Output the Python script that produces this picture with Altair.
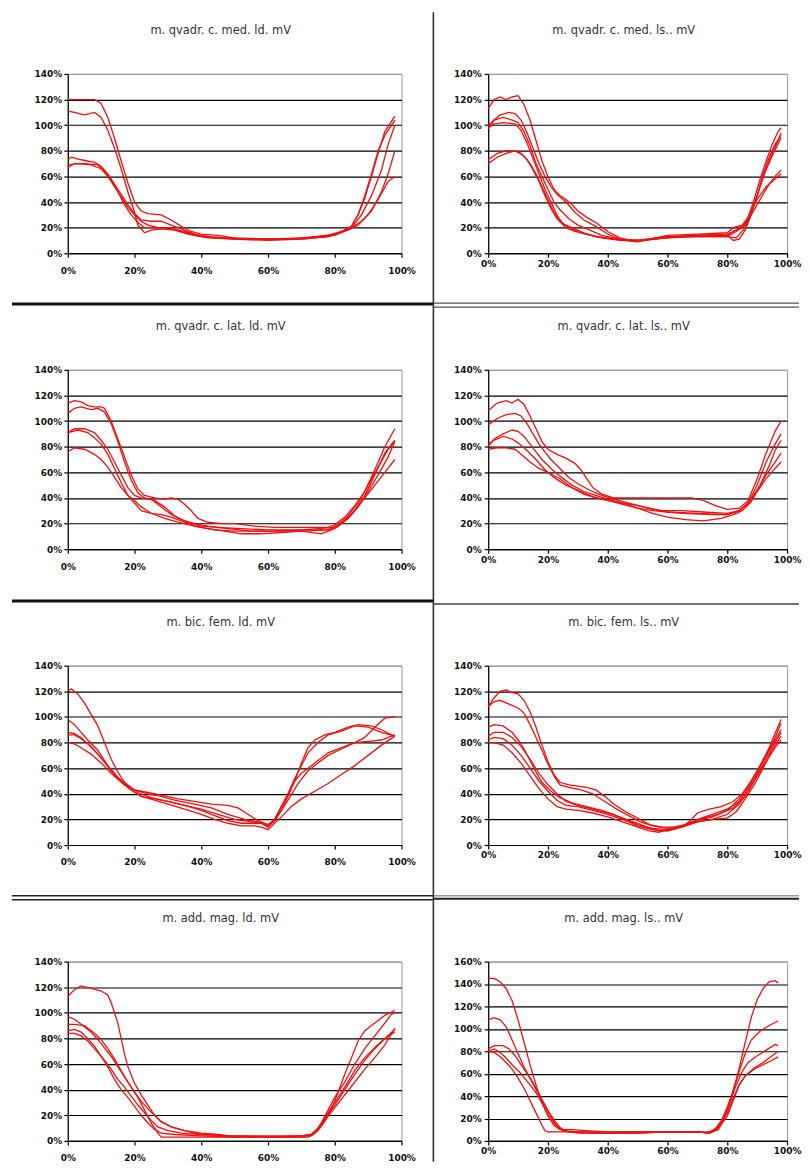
import altair as alt
import pandas as pd

# ---------------- titles ----------------
TITLES = [
    "m. qvadr. c. med. ld. mV", "m. qvadr. c. med. ls.. mV",
    "m. qvadr. c. lat. ld. mV", "m. qvadr. c. lat. ls.. mV",
    "m. bic. fem. ld. mV", "m. bic. fem. ls.. mV",
    "m. add. mag. ld. mV", "m. add. mag. ls.. mV",
]
Y_MAX = [140, 140, 140, 140, 140, 140, 140, 160]
X_TICKS = [0, 20, 40, 60, 80, 100]

# ---------------- panel 1: m. qvadr. c. med. ld. ----------------
P1_A = [(0,120),(3,120),(8,120),(10,117),(12,106),(14,90),(16,72),(18,55),(20,40),(22,33),(24,31),(28,30),(31,26),(34,21),(37,17),(40,15),(45,14),(50,12),(60,11),(70,12),(78,14),(82,17),(85,21),(87,30),(89,43),(91,60),(93,78),(95,95),(97,103),(98,107)]
P1_B = [(0,111),(2,110),(5,108),(8,110),(10,106),(12,96),(14,82),(16,66),(18,48),(20,32),(21,22),(23,16),(25,18),(28,19),(32,18),(36,15),(40,13),(45,12),(50,11),(60,11),(70,11),(78,13),(82,17),(85,21),(87,30),(89,45),(91,62),(93,80),(95,92),(97,100),(98,104)]
P1_C = [(0,73),(1,75),(4,73),(8,71),(10,68),(12,62),(14,54),(16,46),(18,38),(20,31),(22,26),(25,25),(28,25),(31,22),(34,19),(38,15),(42,13),(48,12),(55,11),(65,11),(72,12),(80,15),(84,18),(87,22),(90,30),(93,42),(96,56),(98,60)]
P1_D = [(0,67),(2,70),(5,70),(9,69),(11,64),(13,57),(15,48),(17,38),(19,30),(21,24),(23,20),(26,20),(30,20),(34,17),(38,14),(42,12),(50,11),(60,10),(70,11),(78,13),(82,16),(85,20),(88,25),(91,33),(94,48),(96,62),(98,80)]
P1_E = [(0,69),(3,70),(7,69),(10,66),(12,60),(14,52),(16,44),(18,36),(20,30),(22,25),(24,22),(27,20),(31,19),(35,17),(39,14),(45,12),(55,11),(65,11),(72,12),(80,14),(85,20),(88,30),(91,45),(94,65),(96,85),(98,100)]

# ---------------- panel 2: m. qvadr. c. med. ls. ----------------
P2_A = [(0,113),(2,120),(4,122),(6,120),(8,122),(10,123),(12,116),(14,104),(16,88),(18,72),(20,60),(22,50),(24,45),(26,42),(28,38),(30,33),(33,28),(36,24),(40,17),(44,12),(48,10),(52,10),(56,12),(60,14),(70,15),(80,16),(82,20),(85,22),(87,28),(89,42),(91,58),(93,72),(95,85),(97,95),(98,98)]
P2_B = [(0,97),(2,104),(4,108),(7,110),(9,109),(11,104),(13,94),(15,82),(17,70),(19,60),(21,52),(23,46),(26,40),(29,32),(32,26),(36,21),(40,15),(45,10),(50,9),(55,11),(62,13),(70,14),(80,14),(82,10),(84,11),(86,18),(88,30),(90,45),(92,62),(94,75),(96,85),(98,92)]
P2_C = [(0,100),(2,104),(5,106),(8,104),(10,102),(12,95),(14,84),(16,70),(18,60),(20,50),(22,40),(24,34),(27,27),(30,22),(34,18),(38,14),(42,12),(46,10),(52,10),(60,12),(70,13),(80,13),(83,12),(86,20),(88,32),(90,45),(92,60),(95,76),(98,90)]
P2_D = [(0,98),(2,101),(5,102),(9,101),(11,96),(13,86),(15,74),(17,62),(19,50),(21,40),(23,30),(25,23),(28,20),(32,16),(36,13),(40,12),(45,10),(50,10),(60,13),(70,13),(80,13),(83,17),(86,22),(88,30),(91,42),(94,54),(96,60),(98,65)]
P2_E = [(0,70),(3,75),(6,78),(9,80),(11,78),(13,73),(15,65),(17,56),(19,45),(21,35),(23,27),(26,20),(29,17),(33,15),(38,12),(44,10),(50,10),(60,12),(70,14),(80,15),(83,18),(86,24),(88,33),(90,42),(93,52),(96,58),(98,62)]
P2_F = [(0,73),(3,78),(6,80),(9,80),(12,76),(14,70),(16,62),(18,52),(20,42),(22,32),(24,25),(27,20),(31,16),(36,13),(42,11),(50,10),(60,13),(70,14),(80,14),(82,17),(85,20),(87,26),(89,38),(91,52),(93,66),(95,78),(97,88),(98,94)]

# ---------------- panel 3: m. qvadr. c. lat. ld. ----------------
P3_A = [(0,114),(2,116),(4,115),(6,112),(8,111),(10,111),(11,110),(13,100),(15,86),(17,72),(19,58),(21,47),(23,42),(26,40),(29,39),(31,40),(33,39),(35,35),(37,30),(39,24),(42,21),(46,20),(50,20),(56,18),(62,17),(70,17),(78,17),(80,19),(83,25),(86,34),(89,45),(92,62),(95,80),(98,94)]
P3_B = [(0,106),(2,110),(4,111),(7,109),(9,110),(11,107),(13,98),(15,84),(17,68),(19,54),(21,44),(23,40),(26,38),(29,33),(32,26),(35,22),(38,18),(42,16),(47,14),(52,12),(58,12),(64,13),(70,14),(76,12),(80,16),(83,22),(86,30),(89,42),(92,58),(95,75),(98,85)]
P3_C = [(0,91),(2,94),(5,94),(8,91),(10,85),(12,78),(14,68),(16,58),(18,48),(20,42),(22,40),(25,39),(28,33),(31,27),(34,23),(38,20),(42,18),(48,16),(55,14),(62,14),(70,14),(78,15),(81,19),(84,26),(87,36),(90,50),(93,64),(96,78),(98,84)]
P3_D = [(0,91),(3,93),(6,91),(8,87),(10,82),(12,74),(14,63),(16,52),(18,42),(20,36),(22,30),(25,28),(28,27),(31,25),(35,21),(40,18),(45,17),(52,16),(60,15),(70,15),(78,15),(81,18),(84,24),(87,33),(90,45),(93,58),(96,72),(98,84)]
P3_E = [(0,76),(2,79),(5,78),(8,74),(10,70),(12,64),(14,56),(16,48),(18,42),(20,38),(22,33),(25,28),(29,24),(33,21),(38,18),(44,15),(50,14),(60,14),(70,15),(80,17),(83,22),(86,30),(89,40),(92,50),(95,60),(98,70)]

# ---------------- panel 4: m. qvadr. c. lat. ls. ----------------
P4_A = [(0,108),(3,114),(6,116),(8,114),(10,117),(12,113),(14,104),(16,94),(18,84),(20,78),(23,74),(26,71),(29,67),(31,62),(33,55),(35,48),(38,43),(42,40),(48,40),(55,40),(62,40),(68,40),(72,38),(76,34),(80,31),(84,32),(87,38),(90,55),(93,75),(96,92),(98,100)]
P4_B = [(0,97),(3,102),(6,105),(9,106),(11,104),(13,98),(15,90),(17,82),(19,76),(21,70),(24,63),(27,56),(30,51),(34,46),(38,42),(42,39),(47,36),(52,33),(58,30),(65,30),(72,29),(80,28),(84,30),(87,36),(90,50),(93,68),(96,82),(98,90)]
P4_C = [(0,80),(2,86),(5,90),(8,93),(10,92),(12,88),(14,82),(16,76),(18,70),(21,63),(24,57),(28,50),(32,45),(36,42),(40,39),(45,36),(50,32),(55,28),(60,25),(66,23),(72,22),(78,24),(82,27),(85,30),(88,37),(91,50),(94,65),(96,77),(98,85)]
P4_D = [(0,82),(2,85),(5,88),(8,86),(10,83),(13,77),(16,70),(19,62),(22,56),(26,50),(30,46),(35,41),(40,38),(45,36),(50,34),(55,31),(60,29),(65,28),(75,27),(80,27),(84,30),(87,36),(90,46),(93,58),(96,68),(98,75)]
P4_E = [(0,78),(3,79),(6,79),(9,78),(11,74),(14,68),(17,63),(20,60),(24,55),(28,48),(32,43),(36,40),(40,38),(45,35),(50,32),(55,30),(60,29),(70,28),(80,27),(84,30),(87,36),(90,45),(93,55),(96,63),(98,68)]

# ---------------- panel 5: m. bic. fem. ld. ----------------
P5_A = [(0,120),(1,122),(3,118),(5,111),(7,102),(9,93),(11,80),(13,67),(15,57),(17,49),(20,43),(24,40),(28,38),(32,35),(38,32),(43,29),(48,24),(53,20),(57,18),(60,15),(62,19),(64,27),(66,38),(68,50),(70,64),(72,76),(74,82),(77,86),(80,88),(84,92),(87,94),(91,93),(94,90),(97,86),(98,85)]
P5_B = [(0,98),(2,94),(4,88),(6,82),(9,74),(11,66),(13,58),(15,52),(17,47),(20,43),(24,41),(28,39),(33,36),(38,34),(43,32),(48,31),(51,29),(54,24),(57,19),(60,16),(62,20),(64,30),(66,40),(68,52),(70,62),(72,72),(75,80),(78,86),(82,89),(86,93),(90,92),(94,88),(98,85)]
P5_C = [(0,88),(2,87),(4,84),(6,79),(9,71),(12,62),(15,53),(18,46),(21,41),(25,37),(30,34),(35,31),(40,28),(45,24),(50,20),(55,18),(58,17),(60,15),(62,20),(64,30),(66,40),(68,50),(70,56),(72,60),(75,66),(78,72),(82,76),(86,80),(89,84),(92,92),(95,99),(98,100)]
P5_D = [(0,86),(2,86),(4,83),(7,77),(10,68),(13,58),(16,50),(19,43),(22,38),(26,36),(30,34),(35,31),(40,27),(44,23),(48,19),(52,17),(56,17),(58,17),(60,14),(62,19),(64,27),(66,35),(69,48),(72,58),(75,64),(78,70),(82,75),(86,80),(90,81),(94,82),(98,86)]
P5_E = [(0,80),(2,79),(4,76),(7,71),(10,64),(13,56),(16,49),(19,43),(22,38),(26,35),(30,32),(35,28),(40,24),(44,20),(48,17),(52,15),(56,15),(58,14),(60,12),(62,17),(64,22),(67,30),(70,36),(74,42),(78,48),(82,55),(86,62),(90,70),(94,78),(98,85)]

# ---------------- panel 6: m. bic. fem. ls. ----------------
P6_A = [(0,108),(2,115),(4,120),(6,121),(8,119),(10,118),(12,113),(14,104),(16,92),(18,78),(20,65),(22,55),(24,49),(27,47),(30,46),(33,45),(36,43),(39,38),(42,32),(46,26),(50,21),(54,16),(58,14),(62,14),(66,16),(68,20),(70,25),(74,28),(78,30),(82,34),(85,40),(88,50),(91,62),(94,76),(96,87),(98,98)]
P6_B = [(0,108),(2,112),(4,113),(7,110),(10,107),(12,103),(14,94),(16,84),(18,74),(20,63),(22,54),(24,47),(27,45),(31,43),(35,40),(39,34),(43,28),(47,23),(51,18),(55,15),(60,13),(65,15),(70,20),(75,24),(80,28),(84,34),(87,44),(90,56),(93,70),(96,84),(98,95)]
P6_C = [(0,92),(2,94),(5,93),(8,88),(10,82),(12,75),(14,66),(16,57),(18,49),(21,42),(24,37),(28,33),(33,30),(38,27),(42,24),(46,20),(50,16),(55,13),(60,12),(65,15),(70,19),(75,22),(80,27),(84,36),(87,46),(90,58),(93,70),(96,82),(98,90)]
P6_D = [(0,85),(2,88),(5,88),(8,84),(11,77),(14,67),(17,56),(20,47),(23,40),(26,34),(30,31),(35,28),(40,25),(45,21),(50,17),(54,13),(57,11),(60,11),(63,13),(67,17),(72,21),(77,24),(82,29),(86,38),(89,50),(92,63),(95,76),(98,88)]
P6_E = [(0,82),(2,84),(5,83),(8,78),(11,70),(14,60),(17,50),(20,42),(23,35),(26,31),(30,30),(35,27),(40,24),(45,20),(50,15),(55,12),(60,11),(65,14),(70,18),(75,20),(80,21),(83,26),(86,36),(89,47),(92,60),(95,74),(98,85)]
P6_F = [(0,80),(2,80),(5,78),(8,72),(11,64),(14,54),(17,44),(20,36),(23,30),(26,28),(30,27),(35,25),(40,22),(45,18),(50,14),(54,11),(57,10),(60,12),(65,15),(70,18),(75,20),(80,24),(84,32),(87,42),(90,54),(93,65),(96,76),(98,82)]

# ---------------- panel 7: m. add. mag. ld. ----------------
P7_A = [(0,113),(2,118),(4,121),(7,119),(10,117),(12,114),(13,108),(14,100),(15,92),(16,80),(17,68),(18,58),(20,45),(22,36),(24,28),(26,20),(28,15),(31,11),(35,8),(40,6),(45,5),(50,3),(60,3),(70,4),(73,4),(75,8),(77,15),(79,25),(81,38),(83,52),(85,65),(87,78),(89,86),(92,92),(95,98),(98,102)]
P7_B = [(0,97),(2,95),(4,91),(7,85),(10,76),(13,66),(15,58),(17,50),(19,42),(21,34),(23,24),(25,14),(27,6),(28,3),(32,3),(40,3),(50,3),(60,3),(72,3),(74,6),(76,14),(78,24),(80,34),(83,46),(86,60),(89,72),(92,82),(95,92),(97,99),(98,100)]
P7_C = [(0,91),(2,91),(5,90),(8,84),(10,79),(12,72),(14,64),(16,55),(18,46),(20,38),(22,31),(24,25),(26,20),(28,15),(31,11),(35,8),(40,5),(50,4),(60,3),(70,4),(73,5),(75,10),(77,18),(80,30),(83,42),(86,55),(89,65),(92,73),(95,80),(98,87)]
P7_D = [(0,86),(2,87),(4,85),(6,80),(8,74),(10,66),(12,58),(14,48),(16,40),(18,34),(20,27),(22,20),(24,14),(26,9),(28,6),(32,5),(40,4),(50,3),(60,3),(70,3),(73,5),(75,10),(77,17),(80,28),(83,40),(86,52),(89,63),(92,72),(95,80),(98,85)]
P7_E = [(0,84),(2,84),(4,82),(6,78),(8,72),(11,63),(13,56),(15,48),(17,42),(19,35),(21,28),(23,22),(25,16),(27,11),(30,8),(34,6),(40,5),(50,4),(60,4),(70,4),(73,5),(75,9),(77,16),(80,26),(83,36),(86,46),(89,56),(92,65),(95,75),(98,88)]

# ---------------- panel 8: m. add. mag. ls. ----------------
P8_A = [(0,145),(2,145),(4,142),(6,136),(8,125),(10,108),(12,88),(14,68),(16,50),(18,34),(20,22),(22,14),(24,10),(28,10),(34,9),(40,8),(50,8),(60,8),(70,8),(74,7),(76,10),(78,16),(80,28),(82,45),(84,65),(86,88),(88,110),(90,126),(92,136),(94,142),(96,143),(97,141)]
P8_B = [(0,108),(2,110),(4,108),(6,102),(8,90),(10,78),(12,66),(14,56),(16,46),(18,36),(20,27),(22,19),(24,12),(26,9),(30,8),(40,7),(50,8),(60,8),(70,8),(74,7),(76,11),(78,18),(80,30),(82,45),(84,62),(86,78),(88,90),(91,98),(94,103),(97,107)]
P8_C = [(0,82),(2,85),(5,85),(7,82),(9,76),(11,68),(13,60),(15,52),(17,42),(19,32),(21,22),(23,13),(25,9),(30,7),(40,7),(50,7),(60,8),(70,8),(74,7),(77,10),(79,20),(81,35),(83,50),(85,62),(87,70),(90,76),(93,81),(96,86),(97,85)]
P8_D = [(0,80),(2,82),(4,79),(6,74),(8,68),(11,60),(14,50),(16,43),(18,34),(20,24),(22,16),(24,11),(27,8),(35,7),(50,7),(60,8),(70,8),(74,7),(77,11),(80,22),(82,36),(84,50),(86,58),(89,65),(92,70),(95,76),(97,80)]
P8_E = [(0,80),(2,79),(4,75),(6,70),(8,64),(10,56),(12,47),(14,36),(16,25),(18,14),(19,9),(20,8),(25,8),(30,8),(40,8),(50,8),(60,8),(70,8),(74,8),(77,12),(80,25),(82,38),(84,50),(86,58),(89,64),(92,68),(95,72),(97,75)]

SERIES = [
    [P1_A, P1_B, P1_C, P1_D, P1_E],
    [P2_A, P2_B, P2_C, P2_D, P2_E, P2_F],
    [P3_A, P3_B, P3_C, P3_D, P3_E],
    [P4_A, P4_B, P4_C, P4_D, P4_E],
    [P5_A, P5_B, P5_C, P5_D, P5_E],
    [P6_A, P6_B, P6_C, P6_D, P6_E, P6_F],
    [P7_A, P7_B, P7_C, P7_D, P7_E],
    [P8_A, P8_B, P8_C, P8_D, P8_E],
]

RED = "#ee1111"
FONT = "DejaVu Sans"
H = 180
W_LEFT, W_RIGHT = 335, 300

one = pd.DataFrame({"k": [0]})


def hrule(x1, x2, y, color, width):
    return alt.Chart(one).mark_rule(color=color, strokeWidth=width).encode(
        x=alt.value(x1), x2=alt.value(x2), y=alt.value(y))


def vrule(x, y1, y2, color, width):
    return alt.Chart(one).mark_rule(color=color, strokeWidth=width).encode(
        x=alt.value(x), y=alt.value(y1), y2=alt.value(y2))


def dividers(i):
    row, col = divmod(i, 2)
    if col == 0:
        vseg = [(-62, 231), (-66, 232), (-65, 235), (-62, 201)][row]
        out = [vrule(367, vseg[0], vseg[1], "#333333", 1.6)]
        if row == 0:
            out.append(hrule(-56, 367, 231, "#111111", 3))
        elif row == 1:
            out.append(hrule(-56, 367, 232, "#111111", 3))
        elif row == 2:
            out.append(hrule(-56, 367, 231, "#222222", 1.5))
            out.append(hrule(-56, 367, 235, "#222222", 1.5))
        return out
    out = []
    if row == 0:
        out.append(hrule(-55, 312, 230, "#555555", 1.2))
        out.append(hrule(-55, 312, 234, "#555555", 1.2))
    elif row == 1:
        out.append(hrule(-55, 312, 235, "#444444", 1.4))
    elif row == 2:
        out.append(hrule(-55, 312, 231, "#666666", 1))
        out.append(hrule(-55, 312, 234, "#222222", 2))
    return out


def panel(i):
    row, col = divmod(i, 2)
    w = W_LEFT if col == 0 else W_RIGHT
    ymax = Y_MAX[i]
    recs = []
    for s, pts in enumerate(SERIES[i]):
        for x, y in pts:
            recs.append({"series": f"s{s}", "x": x, "y": y})
    df = pd.DataFrame(recs)

    xaxis = alt.Axis(values=X_TICKS, labelExpr="datum.value + '%'", title=None,
                     grid=False, domainColor="#000", domainWidth=1.2,
                     tickColor="#000", tickSize=4, tickWidth=1.2,
                     labelPadding=9 if col == 0 else 2, labelFlush=False,
                     labelFontSize=9, labelFontWeight="bold", labelColor="#111",
                     labelFont=FONT)
    yaxis = alt.Axis(values=list(range(0, ymax + 1, 20)),
                     labelExpr="datum.value + '%'", title=None, grid=True,
                     gridColor={"condition": {"test": f"datum.value >= {ymax}", "value": "#9a9a9a"},
                                "value": "#000000"},
                     gridWidth=1.2, domainColor="#000", domainWidth=1.2,
                     tickColor="#000", tickSize=4, tickWidth=1.2,
                     labelPadding=2 if col == 0 else 3,
                     labelFontSize=9, labelFontWeight="bold", labelColor="#111",
                     labelFont=FONT)

    lines = alt.Chart(df).mark_line(color=RED, strokeWidth=1.3).encode(
        x=alt.X("x:Q", scale=alt.Scale(domain=[0, 100], nice=False), axis=xaxis),
        y=alt.Y("y:Q", scale=alt.Scale(domain=[0, ymax], nice=False), axis=yaxis),
        detail="series:N",
    )
    tdf = pd.DataFrame({"t": [TITLES[i]]})
    ttl = alt.Chart(tdf).mark_text(fontSize=11.5, font=FONT, color="#333333",
                                   align="center", baseline="middle").encode(
        x=alt.value(w / 2 - 14), y=alt.value(-43), text="t:N")
    return alt.layer(lines, ttl, *dividers(i)).properties(width=w, height=H)


chart = alt.concat(
    *[panel(i) for i in range(8)],
    columns=2,
    spacing={"row": 117, "column": 87},
    bounds="flush",
    align="each",
).properties(
    padding={"left": 2, "top": 0, "right": 0, "bottom": 0},
    background="white",
).configure_view(stroke="#9a9a9a", strokeWidth=1)

chart.save("out.html", embed_options={"renderer": "svg", "actions": False})
